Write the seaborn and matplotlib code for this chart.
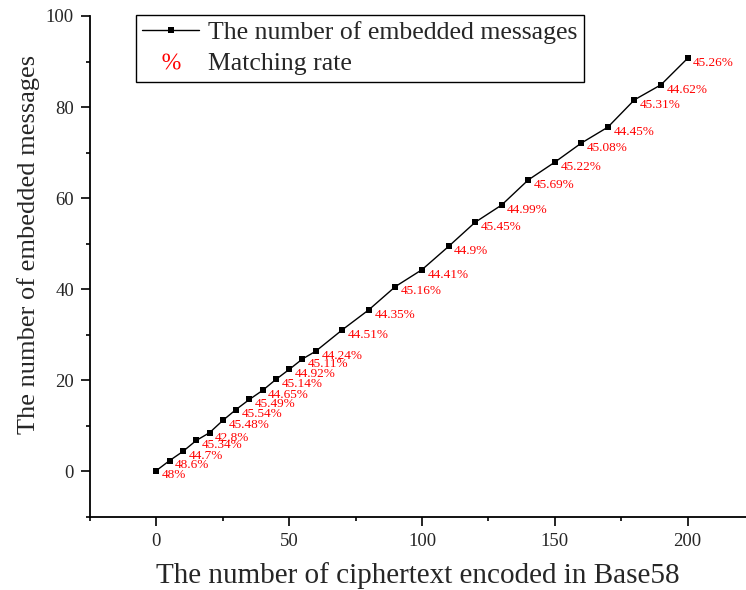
import matplotlib
matplotlib.use("Agg")
import matplotlib.pyplot as plt
import pandas as pd
import seaborn as sns
from matplotlib.lines import Line2D
from matplotlib.ticker import MultipleLocator

# 数据：密文数量、嵌入消息数量、匹配率
ciphertext = [0, 5, 10, 15, 20, 25, 30, 35, 40, 45, 50, 55, 60,
              70, 80, 90, 100, 110, 120, 130, 140, 150, 160, 170, 180, 190, 200]
embedded = [0.2, 2.4, 4.4, 6.8, 8.5, 11.2, 13.6, 15.8, 17.8, 20.2, 22.4, 24.7, 26.4,
            31.1, 35.5, 40.6, 44.3, 49.4, 54.7, 58.5, 64.0, 67.9, 72.1, 75.6, 81.6, 84.9, 90.7]
match_rate = ["48%", "48.6%", "44.7%", "45.34%", "42.8%", "45.48%", "45.54%", "45.49%",
              "44.65%", "45.14%", "44.92%", "45.11%", "44.24%", "44.51%", "44.35%", "45.16%",
              "44.41%", "44.9%", "45.45%", "44.99%", "45.69%", "45.22%", "45.08%", "44.45%",
              "45.31%", "44.62%", "45.26%"]

df = pd.DataFrame({"x": ciphertext, "y": embedded})

sns.set_style("ticks")
plt.rcParams["font.family"] = ["Liberation Serif", "DejaVu Serif"]
plt.rcParams["mathtext.fontset"] = "custom"
plt.rcParams["mathtext.rm"] = "Liberation Serif"

fig = plt.figure(figsize=(7.46, 5.90), dpi=100)
ax = fig.add_axes([90 / 746, 1 - 517 / 590, 1 - 90 / 746, (517 - 16) / 590])

sns.lineplot(data=df, x="x", y="y", ax=ax, color="black", linewidth=1,
             marker="s", markersize=5, markeredgewidth=0, markerfacecolor="black")

# 匹配率标注
for xv, yv, lab in zip(ciphertext, embedded, match_rate):
    ax.annotate(lab, (xv, yv), xytext=(4, -3.5), textcoords="offset points",
                color="red", fontsize=9.5, ha="left", va="center")

ax.set_xlim(-25, 222)
ax.set_ylim(-10, 100)
ax.xaxis.set_major_locator(MultipleLocator(50))
ax.xaxis.set_minor_locator(MultipleLocator(25))
ax.yaxis.set_major_locator(MultipleLocator(20))
ax.yaxis.set_minor_locator(MultipleLocator(10))
ax.tick_params(which="major", direction="out", length=6.5, width=1.2, labelsize=13.5,
               color="black", pad=5)
ax.tick_params(which="minor", direction="out", length=3.2, width=1.2, color="black")

for s in ["top", "right"]:
    ax.spines[s].set_visible(False)
for s in ["left", "bottom"]:
    ax.spines[s].set_linewidth(1.3)
    ax.spines[s].set_color("black")

ax.set_xlabel("The number of ciphertext encoded in Base58", fontsize=21, labelpad=9)
ax.set_ylabel("The number of embedded messages", fontsize=19)
ax.yaxis.set_label_coords(-0.076, 0.545)

handles = [
    Line2D([], [], color="black", linewidth=1, marker="s", markersize=4, markeredgewidth=0),
    Line2D([], [], color="red", linestyle="None", marker="$\\%$", markersize=13,
           markeredgewidth=0),
]
leg = fig.legend(handles, ["The number of embedded messages", "Matching rate"],
                 loc="upper left", bbox_to_anchor=(136 / 746, 1 - 15 / 590),
                 fontsize=18.5, frameon=True, fancybox=False, edgecolor="black",
                 framealpha=1, borderaxespad=0, handlelength=2.2, handletextpad=0.35,
                 borderpad=0.25, labelspacing=0.3)
leg.get_frame().set_linewidth(1)

fig.savefig("out.png", dpi=100)
